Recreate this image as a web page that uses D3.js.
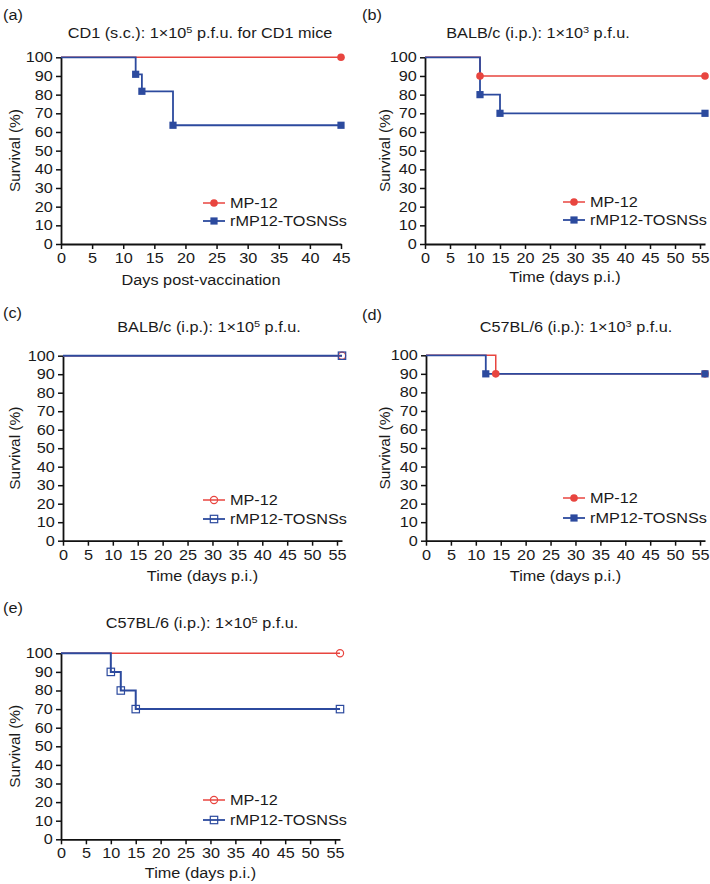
<!DOCTYPE html>
<html>
<head>
<meta charset="utf-8">
<script src="https://cdn.jsdelivr.net/npm/d3@7"></script>
<style>
  html, body { margin: 0; padding: 0; background: #ffffff; }
  svg { display: block; }
</style>
</head>
<body>
<svg id="chart" width="710" height="884"></svg>
<script>
// ---------------- DATA ----------------
const seriesNames = ["MP-12", "rMP12-TOSNSs"];
const yTickValues = [0, 10, 20, 30, 40, 50, 60, 70, 80, 90, 100];
const xTicks45 = [0, 5, 10, 15, 20, 25, 30, 35, 40, 45];
const xTicks56 = [0, 5, 10, 15, 20, 25, 30, 35, 40, 45, 50, 55];

// (a) CD1 (s.c.)
const aDaysMP = [0, 45];
const aSurvMP = [100, 100];
const aDaysR  = [0, 12, 13, 18, 45];
const aSurvR  = [100, 90.9, 81.8, 63.6, 63.6];
// (b) BALB/c 1e3
const bDaysMP = [0, 11, 56];
const bSurvMP = [100, 90, 90];
const bDaysR  = [0, 11, 15, 56];
const bSurvR  = [100, 80, 70, 70];
// (c) BALB/c 1e5
const cDaysMP = [0, 56];
const cSurvMP = [100, 100];
const cDaysR  = [0, 56];
const cSurvR  = [100, 100];
// (d) C57BL/6 1e3
const dDaysMP = [0, 14, 56];
const dSurvMP = [100, 90, 90];
const dDaysR  = [0, 12, 56];
const dSurvR  = [100, 90, 90];
// (e) C57BL/6 1e5
const eDaysMP = [0, 56];
const eSurvMP = [100, 100];
const eDaysR  = [0, 10, 12, 15, 56];
const eSurvR  = [100, 90, 80, 70, 70];

const RED = "#e8453f";
const BLUE = "#2c4a9e";
const FONT = "'Liberation Sans', Arial, Helvetica, sans-serif";
const SX = 1.16; // horizontal stretch of the original typeface

const panels = [
  { label: "(a)", labelX: 3, labelY: 20,
    title: ["CD1 (s.c.): 1×10", "5", " p.f.u. for CD1 mice"], titleX: 200, titleY: 38,
    x0: 61, x1: 341, yTop: 57.3, yBot: 244, xmax: 45, xticks: xTicks45,
    xlabel: "Days post-vaccination", xlabelY: 285, ylabelX: 15,
    mp: [aDaysMP, aSurvMP], r: [aDaysR, aSurvR], open: false,
    legX: 203, legY1: 203, legY2: 221 },
  { label: "(b)", labelX: 362, labelY: 20,
    title: ["BALB/c (i.p.): 1×10", "3", " p.f.u."], titleX: 538, titleY: 38,
    x0: 425, x1: 705, yTop: 57.3, yBot: 244, xmax: 56, xticks: xTicks56,
    xlabel: "Time (days p.i.)", xlabelY: 282, ylabelX: 385,
    mp: [bDaysMP, bSurvMP], r: [bDaysR, bSurvR], open: false,
    legX: 563, legY1: 202, legY2: 220 },
  { label: "(c)", labelX: 3, labelY: 318,
    title: ["BALB/c (i.p.): 1×10", "5", " p.f.u."], titleX: 209, titleY: 332,
    x0: 63, x1: 342, yTop: 355.7, yBot: 540.7, xmax: 56, xticks: xTicks56,
    xlabel: "Time (days p.i.)", xlabelY: 581, ylabelX: 15,
    mp: [cDaysMP, cSurvMP], r: [cDaysR, cSurvR], open: true,
    legX: 203, legY1: 500, legY2: 519 },
  { label: "(d)", labelX: 362, labelY: 320,
    title: ["C57BL/6 (i.p.): 1×10", "3", " p.f.u."], titleX: 576, titleY: 332,
    x0: 426, x1: 705, yTop: 355.3, yBot: 540.7, xmax: 56, xticks: xTicks56,
    xlabel: "Time (days p.i.)", xlabelY: 581, ylabelX: 385,
    mp: [dDaysMP, dSurvMP], r: [dDaysR, dSurvR], open: false,
    legX: 563, legY1: 498, legY2: 518 },
  { label: "(e)", labelX: 3, labelY: 613,
    title: ["C57BL/6 (i.p.): 1×10", "5", " p.f.u."], titleX: 202, titleY: 628,
    x0: 61, x1: 340, yTop: 653.3, yBot: 839.3, xmax: 56, xticks: xTicks56,
    xlabel: "Time (days p.i.)", xlabelY: 878, ylabelX: 15,
    mp: [eDaysMP, eSurvMP], r: [eDaysR, eSurvR], open: true,
    legX: 203, legY1: 800, legY2: 820 }
];

const svg = d3.select("#chart");

function stretchedText(parent, x, y, anchor, size, sx) {
  const g = parent.append("g").attr("transform", `translate(${x},${y}) scale(${sx},1)`);
  return g.append("text")
    .attr("text-anchor", anchor)
    .attr("font-family", FONT)
    .attr("font-size", size)
    .attr("fill", "#1a1a1a");
}

function drawMarker(g, type, open, color, cx, cy) {
  if (type === "circle") {
    g.append("circle").attr("cx", cx).attr("cy", cy).attr("r", open ? 3.6 : 3.8)
      .attr("fill", open ? "#ffffff" : color)
      .attr("fill-opacity", open ? 0 : 1)
      .attr("stroke", color).attr("stroke-width", open ? 1.2 : 0);
  } else {
    const s = open ? 7.4 : 7.2;
    g.append("rect").attr("x", cx - s / 2).attr("y", cy - s / 2)
      .attr("width", s).attr("height", s)
      .attr("fill", open ? "none" : color)
      .attr("stroke", color).attr("stroke-width", open ? 1.2 : 0);
  }
}

panels.forEach(p => {
  const g = svg.append("g");
  const x = d3.scaleLinear().domain([0, p.xmax]).range([p.x0, p.x1]);
  const y = d3.scaleLinear().domain([0, 100]).range([p.yBot, p.yTop]);

  // panel label
  stretchedText(g, p.labelX, p.labelY, "start", 14, SX).text(p.label);

  // title with superscript
  const t = stretchedText(g, p.titleX, p.titleY, "middle", 14, SX);
  t.append("tspan").text(p.title[0]);
  t.append("tspan").attr("font-size", 9.5).attr("dy", -5.5).text(p.title[1]);
  t.append("tspan").attr("dy", 5.5).text(p.title[2]);

  // axes
  const yAxis = d3.axisLeft(y).tickValues(yTickValues).tickSize(5).tickSizeOuter(0).tickPadding(2);
  const xAxis = d3.axisBottom(x).tickValues(p.xticks).tickSize(5).tickSizeOuter(0).tickPadding(4);

  const gy = g.append("g").attr("transform", `translate(${p.x0},0)`).call(yAxis);
  const gx = g.append("g").attr("transform", `translate(0,${p.yBot})`).call(xAxis);
  [gx, gy].forEach(ax => {
    ax.select(".domain").attr("stroke", "#111").attr("stroke-width", 1.8);
    ax.selectAll(".tick line").attr("stroke", "#111").attr("stroke-width", 1.5);
    ax.selectAll(".tick text")
      .attr("font-family", FONT).attr("font-size", 14).attr("fill", "#1a1a1a")
      .attr("transform", `scale(${SX},1)`);
  });
  gy.selectAll(".tick text").attr("x", -7);

  // axis titles
  stretchedText(g, (p.x0 + p.x1) / 2, p.xlabelY, "middle", 14, SX).text(p.xlabel);
  const yl = g.append("g")
    .attr("transform", `translate(${p.ylabelX + 5},${(p.yTop + p.yBot) / 2}) rotate(-90) scale(1.1,1)`);
  yl.append("text").attr("text-anchor", "middle").attr("font-family", FONT)
    .attr("font-size", 14).attr("fill", "#1a1a1a").text("Survival (%)");

  // survival curves
  const line = d3.line().x(d => x(d[0])).y(d => y(d[1])).curve(d3.curveStepAfter);
  const series = [
    { data: d3.zip(p.mp[0], p.mp[1]), color: RED, type: "circle", width: 1.5 },
    { data: d3.zip(p.r[0], p.r[1]), color: BLUE, type: "square", width: p.open ? 2 : 1.8 }
  ];
  series.forEach(s => {
    g.append("path").datum(s.data).attr("d", line)
      .attr("fill", "none").attr("stroke", s.color).attr("stroke-width", s.width);
  });
  series.forEach(s => {
    s.data.slice(1).forEach(d => drawMarker(g, s.type, p.open, s.color, x(d[0]), y(d[1])));
  });

  // legend
  const legRows = [
    { name: seriesNames[0], color: RED, type: "circle", yy: p.legY1, w: 1.5 },
    { name: seriesNames[1], color: BLUE, type: "square", yy: p.legY2, w: 1.8 }
  ];
  legRows.forEach(r => {
    g.append("line").attr("x1", p.legX).attr("x2", p.legX + 22)
      .attr("y1", r.yy).attr("y2", r.yy).attr("stroke", r.color).attr("stroke-width", r.w);
    drawMarker(g, r.type, p.open, r.color, p.legX + 11, r.yy);
    stretchedText(g, p.legX + 27, r.yy + 5, "start", 14, SX).text(r.name);
  });
});
</script>
</body>
</html>
